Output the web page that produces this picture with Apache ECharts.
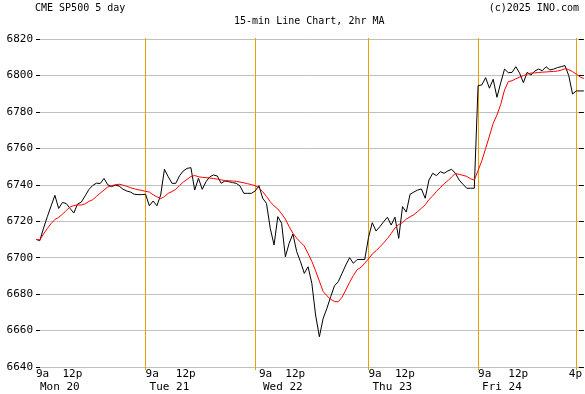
<!DOCTYPE html>
<html>
<head>
<meta charset="utf-8">
<script src="https://cdn.jsdelivr.net/npm/echarts@6/dist/echarts.min.js"></script>
<style>
html,body{margin:0;padding:0;background:#fff;}
#chart{width:585px;height:394px;}
</style>
</head>
<body>
<div id="chart"></div>
<script>
// ---- data (15-min bars) ----
const monPrice = [6710.1,6709.3,6716.2,6722.5,6728.4,6734.2,6727,6730.3,6729.7,6727.1,6724.5,6729.4,6730.5,6733.9,6737.4,6739.6,6740.9,6740.7,6743.5,6740,6739,6739.8,6739.3,6737.6,6736.6,6736,6734.8,6734.6,6734.6,6734.8];
const tuePrice = [6728.5,6731.1,6728.5,6734.4,6748.5,6744.4,6740.8,6740.8,6745,6747.6,6749,6749.4,6737.1,6743.6,6737.5,6741.7,6744.4,6745.4,6744.8,6740.8,6742.1,6741.7,6741.2,6740.8,6739.3,6735.3,6735.3,6735.3,6736.6];
const wedPrice = [6739.5,6732.6,6729.8,6716.1,6707,6722.5,6718.9,6700.5,6707.9,6713,6703.3,6697.8,6691.4,6695,6686,6668.5,6656.6,6666.7,6672.2,6678.6,6684.6,6686.8,6691.4,6696,6700,6696.9,6699,6699,6699];
const thuPrice = [6711,6719.2,6714.6,6717,6719.7,6722.2,6717.9,6722.2,6710.6,6728,6725,6734.8,6736,6737.1,6737.7,6732.6,6742.6,6746.3,6745,6747.2,6746.3,6747.6,6748.5,6746.3,6742.6,6740.3,6738.1,6738.1,6738.1];
const friPrice = [6794.4,6794.8,6798.8,6793,6797.9,6788,6796,6803.5,6801.5,6801.7,6804.8,6801.2,6796,6801.7,6800.2,6802.4,6803.5,6802.6,6804.8,6803,6803.5,6804.3,6804.8,6805.4,6799.9,6789.8,6791.5,6791.5,6791.5];

const monMA = [6710,6709.7,6713,6716,6718.7,6721,6722.1,6723.8,6725.9,6727.8,6728.6,6728.9,6728.9,6729.5,6730.9,6731.8,6733.6,6735.4,6737.1,6738.8,6739.5,6740,6740.3,6739.8,6739.2,6738.4,6737.8,6737.3,6736.9,6736.4];
const tueMA = [6736,6734.5,6733.4,6732.4,6733.5,6735.3,6736.3,6737.5,6739.6,6741.5,6743,6744.5,6745.1,6744.4,6744.1,6743.9,6743.7,6743.4,6743.1,6742.7,6742.3,6742.2,6742.1,6741.9,6741.5,6741.1,6740.6,6740.1,6739.5];
const wedMA = [6738.3,6736.2,6733.6,6730.7,6728.4,6726.7,6724.1,6721.2,6717,6713.4,6710.7,6708.5,6706.4,6702.3,6698,6692.8,6687.1,6681.4,6679.1,6677.1,6676,6675.8,6678.3,6682.3,6686.5,6690.2,6693.4,6694.7,6697];
const thuMA = [6699.3,6702,6703.8,6705.9,6708.1,6710.5,6713.2,6716.3,6718.2,6719.2,6721.2,6722.4,6723.6,6725.3,6727.1,6729,6731.9,6733.9,6736.4,6738.4,6740.6,6742.2,6744.3,6746.2,6745.7,6745.2,6744.6,6743.3,6742.6];
const friMA = [6747.8,6753.2,6759.9,6766.7,6773.7,6778.3,6784.1,6792,6796.6,6797.1,6798.2,6799.1,6799.9,6800.7,6801.3,6801.4,6801.6,6801.8,6801.9,6802.1,6802.2,6802.4,6802.9,6803.7,6803.2,6802.1,6800.7,6799.2,6798.3];

// tick labels (index of bar -> label)
const dayLabelIdx = [0, 29, 59, 88, 117];
const dayNames = ['Mon 20', 'Tue 21', 'Wed 22', 'Thu 23', 'Fri 24'];
const noonIdx = [7, 37, 66, 95, 125];
const closeIdx = 141;
const dayLineIdx = [29, 58, 88, 117, 143];
const yTicks = { min: 6640, max: 6820, step: 20 };

const price = [].concat(monPrice, tuePrice, wedPrice, thuPrice, friPrice);
const ma = [].concat(monMA, tueMA, wedMA, thuMA, friMA);
const categories = price.map((_, i) => String(i));

const timeMap = {};
dayLabelIdx.forEach(idx => { timeMap[idx] = '9a'; });
noonIdx.forEach(idx => { timeMap[idx] = '12p'; });
timeMap[closeIdx] = '4p';
const dayMap = {};
dayLabelIdx.forEach((idx, k) => { dayMap[idx] = dayNames[k]; });

const FONT = '"DejaVu Sans Mono", "Liberation Mono", monospace';
const ORANGE = '#eaa000';
const isDayLine = (i) => dayLineIdx.includes(i);

const chart = echarts.init(document.getElementById('chart'), null, { renderer: 'canvas' });
chart.setOption({
  animation: false,
  backgroundColor: '#ffffff',
  title: [
    { text: 'CME SP500 5 day', left: 35, top: 3, padding: 0,
      textStyle: { fontFamily: FONT, fontSize: 10, fontWeight: 'normal', color: '#000' } },
    { text: '15-min Line Chart, 2hr MA', left: 234, top: 16, padding: 0,
      textStyle: { fontFamily: FONT, fontSize: 10, fontWeight: 'normal', color: '#000' } },
    { text: '(c)2025 INO.com', right: 6, top: 3, padding: 0,
      textStyle: { fontFamily: FONT, fontSize: 10, fontWeight: 'normal', color: '#000' } }
  ],
  grid: { left: 36, right: 0, top: 39, bottom: 27, containLabel: false },
  xAxis: [
    {
      type: 'category',
      data: categories,
      boundaryGap: false,
      axisLine: { show: false },
      axisTick: {
        show: true, inside: true, length: 329,
        interval: isDayLine,
        lineStyle: { color: ORANGE, width: 1 }
      },
      splitLine: { show: false },
      axisLabel: {
        interval: (i) => timeMap[i] !== undefined,
        formatter: (v, i) => timeMap[i] || '',
        hideOverlap: false,
        showMinLabel: true,
        align: 'left',
        margin: 2,
        fontFamily: FONT,
        fontSize: 11,
        color: '#000'
      }
    },
    {
      type: 'category',
      data: categories,
      boundaryGap: false,
      position: 'bottom',
      axisLine: { show: false },
      axisTick: {
        show: true, inside: false, length: 3,
        interval: isDayLine,
        lineStyle: { color: ORANGE, width: 1 }
      },
      splitLine: { show: false },
      axisLabel: {
        interval: (i) => dayMap[i] !== undefined,
        formatter: (v, i) => dayMap[i] || '',
        hideOverlap: false,
        showMinLabel: true,
        align: 'left',
        margin: 15,
        padding: [0, 0, 0, 4],
        fontFamily: FONT,
        fontSize: 11,
        color: '#000'
      }
    }
  ],
  yAxis: [
    {
      type: 'value',
      min: yTicks.min, max: yTicks.max, interval: yTicks.step,
      axisLine: { show: false },
      axisTick: { show: true, inside: true, length: 4, lineStyle: { color: '#000' } },
      axisLabel: { margin: 3, fontFamily: FONT, fontSize: 11, color: '#000', formatter: (v) => String(v) },
      splitLine: { show: true, lineStyle: { color: '#c0c0c0', width: 1 } }
    },
    {
      type: 'value', position: 'right',
      min: yTicks.min, max: yTicks.max, interval: yTicks.step,
      axisLine: { show: false },
      axisTick: { show: true, inside: true, length: 5, lineStyle: { color: '#000' } },
      axisLabel: { show: false },
      splitLine: { show: false }
    }
  ],
  series: [
    { name: 'Price', type: 'line', data: price, xAxisIndex: 0, yAxisIndex: 0, showSymbol: false, symbol: 'none',
      lineStyle: { color: '#000', width: 1 }, z: 3 },
    { name: '2hr MA', type: 'line', data: ma, xAxisIndex: 0, yAxisIndex: 0, showSymbol: false, symbol: 'none',
      lineStyle: { color: '#ff0000', width: 1 }, z: 4 }
  ]
});
</script>
</body>
</html>
